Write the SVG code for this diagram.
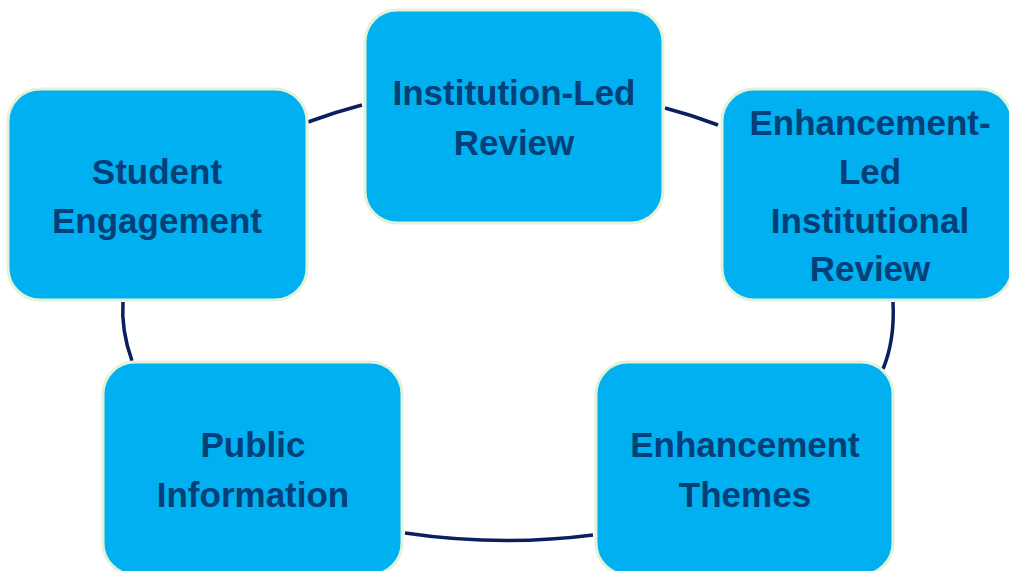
<svg xmlns="http://www.w3.org/2000/svg" width="1009" height="571" viewBox="0 0 1009 571">
<style>
.box{fill:#00b0f0;stroke:#e2f2d8;stroke-width:3}
.lbl{font-family:"Liberation Sans",Arial,sans-serif;font-weight:bold;font-size:35px;fill:#053f78;text-anchor:middle}
.conn{fill:none;stroke:#0b1f5e;stroke-width:3.5;stroke-linecap:butt}
</style>
<rect width="1009" height="571" fill="#ffffff"/>
<g id="connectors">
<path class="conn" d="M308,122 Q335,112 362,105"/>
<path class="conn" d="M665,108 Q692,115 718,125"/>
<path class="conn" d="M893,302 Q895,340 883,369"/>
<path class="conn" d="M593,535 Q500,547 405,533"/>
<path class="conn" d="M132,361 Q121,330 123,302"/>
</g>
<g id="node-institution">
<rect class="box" x="365" y="10" width="298" height="213" rx="32"/>
<text class="lbl" x="514" y="105">Institution-Led</text>
<text class="lbl" x="514" y="155">Review</text>
</g>
<g id="node-enhancement-led">
<rect class="box" x="722" y="89" width="290" height="211" rx="32"/>
<text class="lbl" x="870" y="135">Enhancement-</text>
<text class="lbl" x="870" y="184">Led</text>
<text class="lbl" x="870" y="233">Institutional</text>
<text class="lbl" x="870" y="281">Review</text>
</g>
<g id="node-themes">
<rect class="box" x="596" y="362" width="297" height="213" rx="32"/>
<text class="lbl" x="745" y="457">Enhancement</text>
<text class="lbl" x="745" y="507">Themes</text>
</g>
<g id="node-public">
<rect class="box" x="103" y="362" width="299" height="213" rx="32"/>
<text class="lbl" x="253" y="457">Public</text>
<text class="lbl" x="253" y="507">Information</text>
</g>
<g id="node-student">
<rect class="box" x="8" y="89" width="299" height="211" rx="32"/>
<text class="lbl" x="157" y="184">Student</text>
<text class="lbl" x="157" y="233">Engagement</text>
</g>
</svg>
